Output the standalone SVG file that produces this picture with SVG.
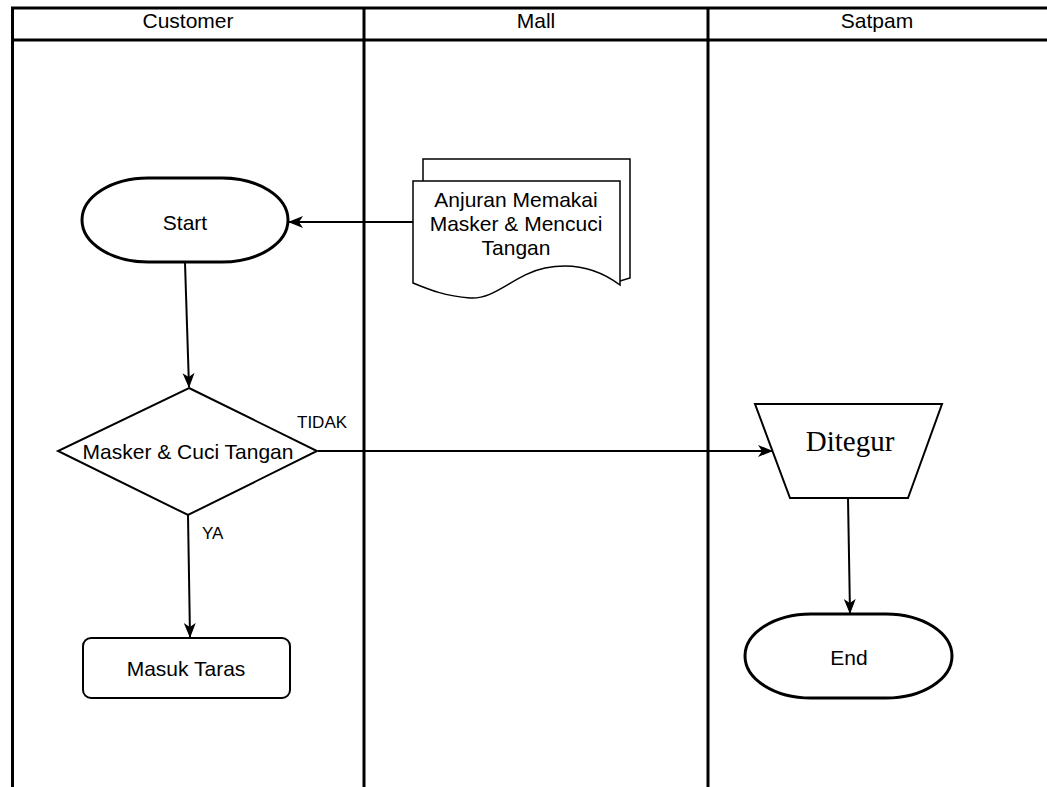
<svg xmlns="http://www.w3.org/2000/svg" width="1047" height="787" viewBox="0 0 1047 787">
<defs>
<style>
.t{font-family:"Liberation Sans",Arial,sans-serif;font-size:21px;fill:#000;text-anchor:middle}
.lbl{font-family:"Liberation Sans",Arial,sans-serif;font-size:17px;fill:#000}
.lane{stroke:#000;stroke-width:3;fill:none}
.shape{fill:#fff;stroke:#000;stroke-width:2}
.term{fill:#fff;stroke:#000;stroke-width:3}
.conn{stroke:#000;stroke-width:2;fill:none}
</style>
<marker id="arr" markerUnits="userSpaceOnUse" markerWidth="16" markerHeight="14" refX="14" refY="7" orient="auto">
<path d="M0,1 L15,7 L0,13 L4,7 Z" fill="#000"/>
</marker>
</defs>
<rect width="1047" height="787" fill="#fff"/>
<g id="lanes">
<line class="lane" x1="11" y1="8" x2="1047" y2="8"/>
<line class="lane" x1="11" y1="40" x2="1047" y2="40"/>
<line class="lane" x1="12.5" y1="7" x2="12.5" y2="787"/>
<line class="lane" x1="364" y1="7" x2="364" y2="787"/>
<line class="lane" x1="708" y1="7" x2="708" y2="787"/>
<text class="t" x="188" y="28">Customer</text>
<text class="t" x="536" y="28">Mall</text>
<text class="t" x="877" y="28">Satpam</text>
</g>
<g id="connectors">
<line class="conn" x1="413" y1="222" x2="289" y2="222" marker-end="url(#arr)"/>
<line class="conn" x1="185" y1="263" x2="189" y2="387" marker-end="url(#arr)"/>
<line class="conn" x1="318" y1="451" x2="772" y2="451" marker-end="url(#arr)"/>
<line class="conn" x1="188" y1="515" x2="190" y2="637" marker-end="url(#arr)"/>
<line class="conn" x1="848" y1="498" x2="850" y2="613" marker-end="url(#arr)"/>
<text class="lbl" x="297" y="428">TIDAK</text>
<text class="lbl" x="202" y="539">YA</text>
</g>
<g id="start">
<rect class="term" x="82" y="178" width="206" height="84" rx="66" ry="42"/>
<text class="t" x="185" y="230">Start</text>
</g>
<g id="anjuran">
<path d="M423,181 L423,159 L630,159 L630,278 L620,281" fill="#fff" stroke="#000" stroke-width="1.5"/>
<path d="M413,181 L620,181 L620,285 C600,270 575,262 545,268 C515,274 495,300 470,298 C445,296 430,290 413,283 Z" fill="#fff" stroke="#000" stroke-width="1.5"/>
<text class="t" x="516" y="207">Anjuran Memakai</text>
<text class="t" x="516" y="231">Masker &amp; Mencuci</text>
<text class="t" x="516" y="255">Tangan</text>
</g>
<g id="decision">
<polygon class="shape" points="189,388 317,451 188,515 58,451"/>
<text class="t" x="188" y="459">Masker &amp; Cuci Tangan</text>
</g>
<g id="masuk">
<rect class="shape" x="83" y="638" width="207" height="60" rx="8"/>
<text class="t" x="186" y="676">Masuk Taras</text>
</g>
<g id="ditegur">
<polygon class="shape" points="755,404 942,404 908,498 790,498"/>
<text x="850" y="451" font-family="'Liberation Serif','Times New Roman',serif" font-size="29" text-anchor="middle" fill="#000">Ditegur</text>
</g>
<g id="end">
<rect class="term" x="745" y="614" width="207" height="84" rx="66" ry="42"/>
<text class="t" x="849" y="665">End</text>
</g>
</svg>
